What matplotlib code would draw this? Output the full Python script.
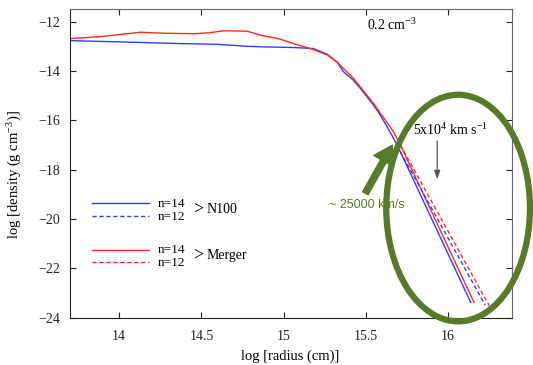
import matplotlib
matplotlib.use('Agg')
import matplotlib.pyplot as plt
from matplotlib.patches import Ellipse
from matplotlib.lines import Line2D

plt.rcParams['font.family'] = ['Liberation Serif', 'DejaVu Serif']
plt.rcParams['mathtext.fontset'] = 'custom'
plt.rcParams['mathtext.rm'] = 'Liberation Serif'
plt.rcParams['mathtext.it'] = 'Liberation Serif:italic'

# inner density profiles (log r [cm], log rho [g cm^-3])
n100_logr = [13.70, 14.00, 14.375, 14.60, 14.78, 14.86, 15.06, 15.18, 15.265,
             15.325, 15.365, 15.42, 15.467, 15.547, 15.588, 15.63, 15.669, 15.71]
n100_logrho = [-12.77, -12.82, -12.89, -12.92, -13.00, -13.02, -13.05, -13.09, -13.32,
               -13.64, -14.04, -14.35, -14.71, -15.39, -15.79, -16.27, -16.74, -17.28]
merger_logr = [13.70, 13.90, 14.13, 14.27, 14.455, 14.55, 14.637, 14.78, 14.86,
               14.97, 15.06, 15.18, 15.265, 15.325, 15.426, 15.547, 15.608, 15.669, 15.71]
merger_logrho = [-12.69, -12.60, -12.43, -12.47, -12.49, -12.45, -12.37, -12.39, -12.55,
                 -12.69, -12.89, -13.13, -13.35, -13.64, -14.31, -15.32, -15.89, -16.47, -17.00]

# outer power-law ends (log r, log rho) for n=14 and n=12
n100_end_n14 = (16.138, -23.39)
n100_end_n12 = (16.225, -23.49)
merger_end_n14 = (16.158, -23.39)
merger_end_n12 = (16.250, -23.52)

blue = '#2a3cff'
red = '#ff2a1a'
green = '#587a2b'

fig = plt.figure(figsize=(5.33, 3.65), dpi=100)
ax = fig.add_axes([0.131, 0.130, 0.830, 0.8445])

# n=14 (solid)
ax.plot(n100_logr + [n100_end_n14[0]], n100_logrho + [n100_end_n14[1]], color=blue, lw=1.0)
ax.plot(merger_logr + [merger_end_n14[0]], merger_logrho + [merger_end_n14[1]], color=red, lw=1.0)
# n=12 (dashed) branches off the inner profile
ax.plot([n100_logr[-1], n100_end_n12[0]], [n100_logrho[-1], n100_end_n12[1]],
        color=blue, lw=1.0, ls=(0, (3, 2)))
ax.plot([merger_logr[-1], merger_end_n12[0]], [merger_logrho[-1], merger_end_n12[1]],
        color=red, lw=1.0, ls=(0, (3, 2)))

ax.set_xlim(13.7, 16.39)
ax.set_ylim(-24, -11.5)
ax.set_xticks([14, 14.5, 15, 15.5, 16])
ax.set_xticklabels(['14', '14.5', '15', '15.5', '16'])
ax.set_yticks([-24, -22, -20, -18, -16, -14, -12])
ax.tick_params(direction='in', top=True, right=True, length=4, width=0.8,
               labelsize=10, colors='#222222')
ax.tick_params(axis='x', pad=9)
ax.tick_params(axis='y', pad=7)
for side in ['left', 'bottom']:
    ax.spines[side].set_color('#222222')
for side in ['right', 'top']:
    ax.spines[side].set_color('#666666')

fig.text(0.545, 0.023, 'log [radius (cm)]', ha='center', va='center', fontsize=10.5)
fig.text(0.028, 0.523, r'log [density (g cm$^{-3}$)]', ha='center', va='center',
         rotation=90, fontsize=10.5)

ax.text(0.729, 0.949, r'0.2 cm$^{-3}$', transform=ax.transAxes, ha='center', va='center',
        fontsize=10)

# legend drawn by hand
for y, c, ls in [(0.372, blue, '-'), (0.330, blue, (0, (3, 2))),
                 (0.2205, red, '-'), (0.181, red, (0, (3, 2)))]:
    ax.add_line(Line2D([0.050, 0.179], [y, y], transform=ax.transAxes, color=c, lw=1.0, ls=ls))
for y, s in [(0.369, 'n=14'), (0.327, 'n=12'), (0.219, 'n=14'), (0.178, 'n=12')]:
    ax.text(0.199, y, s, transform=ax.transAxes, ha='left', va='center', fontsize=9.5)
ax.text(0.279, 0.348, '>', transform=ax.transAxes, ha='left', va='center', fontsize=13)
ax.text(0.310, 0.349, 'N100', transform=ax.transAxes, ha='left', va='center', fontsize=10)
ax.text(0.279, 0.199, '>', transform=ax.transAxes, ha='left', va='center', fontsize=13)
ax.text(0.310, 0.200, 'Merger', transform=ax.transAxes, ha='left', va='center', fontsize=10)

# velocity marker
ax.annotate('', xy=(15.934, -18.5), xytext=(15.934, -16.72),
            arrowprops=dict(arrowstyle='-|>,head_width=0.18,head_length=0.5',
                            color='#555555', lw=0.9))
ax.text(0.86, 0.6087, r'5x10$^{4}$ km s$^{-1}$', transform=ax.transAxes,
        ha='center', va='center', fontsize=10)

# highlighted outer region
ax.add_patch(Ellipse((16.061, -19.56), 0.874, 9.19, fill=False, ec=green, lw=4.5,
                     clip_on=False, zorder=5))
ax.annotate('', xy=(15.661, -17.01), xytext=(15.497, -18.96),
            arrowprops=dict(arrowstyle='simple,head_width=1.6,head_length=1.3,tail_width=0.45',
                            color=green, mutation_scale=10, shrinkA=0, shrinkB=0),
            zorder=6)
ax.text(0.6715, 0.3653, '~ 25000 km/s', transform=ax.transAxes, ha='center', va='center',
        fontsize=9, color=green, family=['Liberation Sans', 'DejaVu Sans'])

fig.savefig('out.png', dpi=100)
